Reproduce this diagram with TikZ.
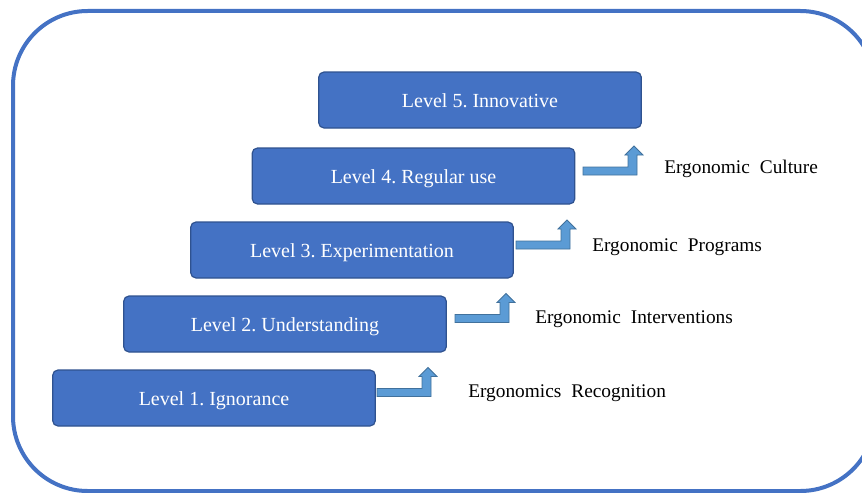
\documentclass[tikz,border=0pt]{standalone}
\usepackage{fontspec}
\setmainfont{Liberation Serif}
\usetikzlibrary{positioning}
\definecolor{boxblue}{HTML}{4472C4}
\definecolor{boxline}{HTML}{2F528F}
\definecolor{arrowblue}{HTML}{5B9BD5}
\definecolor{arrowline}{HTML}{41719C}
\newcommand\widewords{\spaceskip=0.52em plus 0.1em\relax}
\frenchspacing
\begin{document}
\begin{tikzpicture}[
        x=0.75pt, y=-0.75pt,
        level/.style={% For the blue level boxes
            rectangle,
            rounded corners=4pt,
            draw=boxline,
            line width=0.9pt,
            fill=boxblue,
            text=white,
            minimum width=242pt,
            minimum height=42pt,
            text height=14pt,
            text depth=3pt,
            font=\fontsize{15}{17}\selectfont,
            },
        outcome/.style={% For the texts on the right
            anchor=west,
            inner sep=0pt,
            font=\fontsize{14.5}{17}\selectfont,
            execute at begin node=\widewords,
            },
        bentup/.pic={% Bent up arrow, origin at the start of the shaft
            \draw[draw=arrowline, fill=arrowblue, line width=0.6pt]
                (0,-4) -- (45,-4) -- (45,-16) -- (42,-16) -- (51,-25)
                -- (60,-16) -- (54,-16) -- (54,4) -- (0,4) -- cycle;
            },
            ]
         \useasboundingbox (0,0) rectangle (862,492);
         \begin{scope}
             \clip (0,0) rectangle (862,492);
             \draw[boxblue, line width=3pt, rounded corners=56pt] (13,11) rectangle (875,491);
         \end{scope}
         % levels
         \node[level] (lvl5) at (480,100) {Level 5. Innovative};
         \node[level] (lvl4) at (413.5,176) {Level 4. Regular use};
         \node[level] (lvl3) at (352,250) {Level 3. Experimentation};
         \node[level] (lvl2) at (285,324) {Level 2. Understanding};
         \node[level] (lvl1) at (214,398) {Level 1. Ignorance};
         % arrows
         \pic at (377,392.5) {bentup};
         \pic at (455,318.5) {bentup};
         \pic at (516,245) {bentup};
         \pic at (583,171) {bentup};
         % outcomes
         \node[outcome] (out1) at (468,393) {Ergonomics Recognition};
         \node[outcome] (out2) at (535,319) {Ergonomic Interventions};
         \node[outcome] (out3) at (592,247) {Ergonomic Programs};
         \node[outcome] (out4) at (664,169) {Ergonomic Culture};
\end{tikzpicture}
\end{document}
